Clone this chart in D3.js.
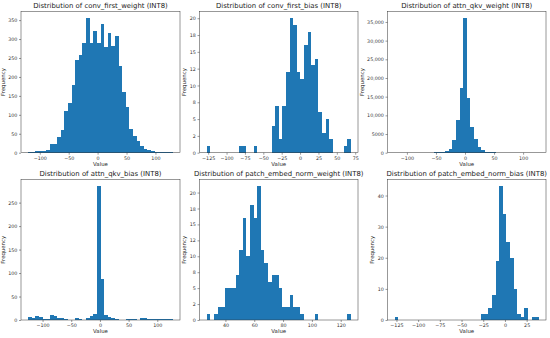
<!DOCTYPE html>
<html>
<head>
<meta charset="utf-8">
<script src="https://cdn.jsdelivr.net/npm/d3@7"></script>
<style>
body { margin: 0; background: #fff; }
svg { display: block; font-family: "DejaVu Sans", sans-serif; }
</style>
</head>
<body>
<script>
//Histogram data: value range and 40 bin counts per layer
var convFirstWeightRange = [-120, 130];
var convFirstWeightCounts = [2,3,4,5,5,7,22,22,42,60,110,130,180,246,258,290,355,290,320,290,
                             340,280,315,282,308,230,160,120,62,45,30,18,10,6,4,3,1,2,1,1];

var convFirstBiasRange = [-127, 69];
var convFirstBiasCounts = [1,0,0,0,0,0,0,0,0,1,1,0,0,1,0,0,0,0,4,7,
                           2,7,12,20,19,12,11,16,18,13,14,6,3,5,2,0,0,0,1,2];

var attnQkvWeightRange = [-121, 127];
var attnQkvWeightCounts = [0,1,0,1,1,2,3,5,10,20,40,70,130,200,400,900,3300,8700,17300,36000,
                           14700,7000,3800,1600,700,300,150,80,40,20,10,6,4,3,2,1,1,0,1,1];

var attnQkvBiasRange = [-125, 127];
var attnQkvBiasCounts = [6,4,8,7,3,2,10,8,4,4,2,0,1,4,3,1,5,9,12,285,
                         88,11,7,4,2,1,0,2,3,2,1,5,4,3,2,2,2,2,2,2];

var normWeightRange = [27, 127];
var normWeightCounts = [1,0,1,2,2,5,5,5,7,11,16,10,18,16,21,11,9,6,7,7,
                        5,2,2,4,2,2,1,0,0,0,1,0,0,0,0,0,0,0,0,1];

var normBiasRange = [-127, 39];
var normBiasCounts = [1,0,0,0,0,0,0,0,0,0,0,0,0,0,0,0,0,0,0,0,
                      0,0,0,0,2,2,4,8,19,43,34,25,20,10,2,1,4,0,1,1];

//Tick values and labels
var ticksPm100 = [-100, -50, 0, 50, 100];
var ticksBias = [-125, -100, -75, -50, -25, 0, 25, 50, 75];
var ticksNormW = [40, 60, 80, 100, 120];
var ticksNormB = [-125, -100, -75, -50, -25, 0, 25];

var yTicks350 = [0, 50, 100, 150, 200, 250, 300, 350];
var yTicks250 = [0, 50, 100, 150, 200, 250];
var yTicks20 = [0, 2.5, 5, 7.5, 10, 12.5, 15, 17.5, 20];
var yLabels20 = ["0", "2", "5", "8", "10", "12", "15", "18", "20"];
var yTicks35k = [0, 5000, 10000, 15000, 20000, 25000, 30000, 35000];
var yLabels35k = ["0", "5000", "10,000", "15,000", "20,000", "25,000", "30,000", "35,000"];
var yTicks40 = [0, 10, 20, 30, 40];

var titles = ["conv_first_weight", "conv_first_bias", "attn_qkv_weight",
              "attn_qkv_bias", "patch_embed_norm_weight", "patch_embed_norm_bias"];

//Width and height
var w = 550;
var h = 338;

//axes box positions
var colX = [[21, 180], [199.5, 358], [387.5, 546]];
var rowY = [[11.5, 152.7], [179.5, 320]];

var panels = [
  {range: convFirstWeightRange, counts: convFirstWeightCounts, xt: ticksPm100, yt: yTicks350},
  {range: convFirstBiasRange, counts: convFirstBiasCounts, xt: ticksBias, yt: yTicks20, yl: yLabels20},
  {range: attnQkvWeightRange, counts: attnQkvWeightCounts, xt: ticksPm100, yt: yTicks35k, yl: yLabels35k},
  {range: attnQkvBiasRange, counts: attnQkvBiasCounts, xt: ticksPm100, yt: yTicks250},
  {range: normWeightRange, counts: normWeightCounts, xt: ticksNormW, yt: yTicks20, yl: yLabels20},
  {range: normBiasRange, counts: normBiasCounts, xt: ticksNormB, yt: yTicks40}
];

var fmtX = function(d) { return d < 0 ? "\u2212" + Math.abs(d) : String(d); };

//Create SVG element
var svg = d3.select("body")
            .append("svg")
            .attr("width", w)
            .attr("height", h);

panels.forEach(function(p, idx) {
    var x0 = colX[idx % 3][0], x1 = colX[idx % 3][1];
    var y0 = rowY[Math.floor(idx / 3)][0], y1 = rowY[Math.floor(idx / 3)][1];
    var n = p.counts.length;
    var span = p.range[1] - p.range[0];
    var bw = span / n;
    var pad = 0.05 * span;

    var x = d3.scaleLinear().domain([p.range[0] - pad, p.range[1] + pad]).range([x0, x1]);
    var y = d3.scaleLinear().domain([0, d3.max(p.counts) * 1.05]).range([y1, y0]);

    var g = svg.append("g");

    //bars, snapped to pixels so neighbours touch without seams
    g.selectAll("rect.bar")
     .data(p.counts.map(function(c, i) { return {c: c, i: i}; }).filter(function(d) { return d.c > 0; }))
     .enter()
     .append("rect")
     .attr("class", "bar")
     .attr("x", function(d) { return x(p.range[0] + d.i * bw); })
     .attr("width", function(d) { return x(p.range[0] + (d.i + 1) * bw) - x(p.range[0] + d.i * bw); })
     .attr("y", function(d) { return y(d.c); })
     .attr("height", function(d) { return y(0) - y(d.c); })
     .attr("fill", "#1f77b4")
     .attr("shape-rendering", "crispEdges");

    //x axis
    var xa = g.append("g")
              .attr("transform", "translate(0," + y1 + ")")
              .call(d3.axisBottom(x).tickValues(p.xt).tickFormat(fmtX).tickSize(2).tickPadding(1.6));
    //y axis
    var ya = g.append("g")
              .attr("transform", "translate(" + x0 + ",0)")
              .call(d3.axisLeft(y).tickValues(p.yt)
                      .tickFormat(function(d, i) { return p.yl ? p.yl[i] : String(d); })
                      .tickSize(2).tickPadding(1.6));
    [xa, ya].forEach(function(a) {
        a.select(".domain").remove();
        a.selectAll("line").attr("stroke", "#333").attr("stroke-width", 0.5);
        a.selectAll("text").attr("font-size", 4.8).attr("fill", "#333")
         .attr("font-family", "DejaVu Sans");
    });

    //frame
    g.append("rect")
     .attr("x", x0).attr("y", y0)
     .attr("width", x1 - x0).attr("height", y1 - y0)
     .attr("fill", "none").attr("stroke", "#333").attr("stroke-width", 0.5);

    //title
    g.append("text")
     .attr("x", (x0 + x1) / 2).attr("y", y0 - 3.6)
     .attr("text-anchor", "middle")
     .attr("font-size", 6.9).attr("fill", "#222")
     .text("Distribution of " + titles[idx] + " (INT8)");

    //x label
    g.append("text")
     .attr("x", (x0 + x1) / 2).attr("y", y1 + 13.3)
     .attr("text-anchor", "middle")
     .attr("font-size", 5.4).attr("fill", "#222")
     .text("Value");

    //y label, placed left of the widest tick label
    var maxW = d3.max(ya.selectAll("text").nodes(), function(t) { return t.getComputedTextLength(); });
    var lx = x0 - maxW - 9;
    g.append("text")
     .attr("transform", "translate(" + lx + "," + ((y0 + y1) / 2) + ") rotate(-90)")
     .attr("text-anchor", "middle")
     .attr("dy", "0.35em")
     .attr("font-size", 5.4).attr("fill", "#222")
     .text("Frequency");
});
</script>
</body>
</html>
